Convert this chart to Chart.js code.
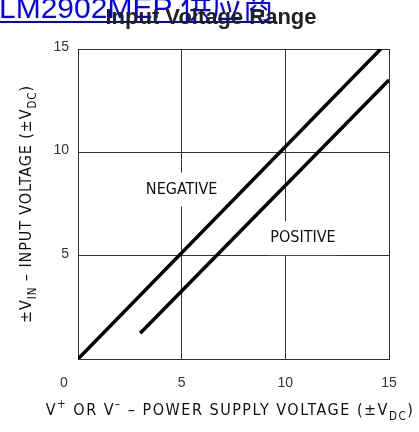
<!DOCTYPE html>
<html>
<head>
<meta charset="utf-8">
<script src="https://cdn.jsdelivr.net/npm/chart.js@4.4.0/dist/chart.umd.min.js"></script>
<style>
  body { margin: 0; background: #fff; }
  canvas { display: block; }
</style>
</head>
<body>
<canvas id="chart" width="419" height="432"></canvas>
<script>
// values
var negativeSupply = [0, 14.6]
var negativeInput = [0, 15]
var positiveSupply = [3, 15]
var positiveInput = [1.25, 13.5]

var xTicks = [0, 5, 10, 15]
var yTicks = [5, 10, 15]

var regionLabels = ['NEGATIVE', 'POSITIVE']
var regionX = [5, 10.85]
var regionY = [8.2, 5.85]

function toPoints(xs, ys) {
  return xs.map(function (x, i) { return {x: x, y: ys[i]} })
}

var LABEL_FONT = '"DejaVu Sans Condensed", "DejaVu Sans", sans-serif'
var TICK_FONT = '"Liberation Sans", Arial, sans-serif'

// draws text made of pieces, some of them raised or lowered
function richText(ctx, parts, size, x, y, spacing) {
  ctx.letterSpacing = spacing + 'px'
  var total = 0
  parts.forEach(function (p) {
    ctx.font = (p.sub || p.sup ? size * 0.72 : size) + 'px ' + LABEL_FONT
    p.w = ctx.measureText(p.t).width
    total += p.w
  })
  var cx = x - total / 2
  parts.forEach(function (p) {
    ctx.font = (p.sub || p.sup ? size * 0.72 : size) + 'px ' + LABEL_FONT
    var dy = p.sub ? size * 0.3 : (p.sup ? -size * 0.42 : 0)
    ctx.textAlign = 'left'
    ctx.fillText(p.t, cx, y + dy)
    cx += p.w
  })
  ctx.letterSpacing = '0px'
}

var decorations = {
  id: 'decorations',
  afterDraw: function (chart) {
    var ctx = chart.ctx
    var xs = chart.scales.x
    var ys = chart.scales.y
    var area = chart.chartArea
    ctx.save()

    // link text at the top left
    ctx.fillStyle = '#0000ff'
    ctx.textBaseline = 'alphabetic'
    ctx.textAlign = 'left'
    ctx.font = '30px "Liberation Sans", Arial, sans-serif'
    ctx.fillText('LM2902MEP', -1, 18)
    var w1 = ctx.measureText('LM2902MEP ').width
    ctx.font = '31px "Noto Sans CJK SC", sans-serif'
    ctx.fillText('供应商', w1 - 1, 18)
    var w2 = ctx.measureText('供应商').width
    ctx.fillRect(0, 21, w1 + w2 + 2, 2)

    // title
    ctx.fillStyle = '#222'
    ctx.textAlign = 'center'
    ctx.font = 'bold 22px "Liberation Sans", Arial, sans-serif'
    ctx.fillText('Input Voltage Range', 211, 24)

    // tick labels
    ctx.fillStyle = '#333'
    ctx.font = '14px ' + TICK_FONT
    ctx.textBaseline = 'middle'
    ctx.textAlign = 'right'
    yTicks.forEach(function (v) {
      ctx.fillText(String(v), area.left - 9, ys.getPixelForValue(v) - 2)
    })
    ctx.textAlign = 'center'
    xTicks.forEach(function (v) {
      var px = xs.getPixelForValue(v)
      if (v === 0) px = area.left - 14
      ctx.fillText(String(v), px, area.bottom + 24)
    })

    // region labels sitting on white boxes that break the grid
    ctx.font = '16px ' + LABEL_FONT
    regionLabels.forEach(function (t, i) {
      var px = xs.getPixelForValue(regionX[i])
      var py = ys.getPixelForValue(regionY[i])
      var w = ctx.measureText(t).width
      ctx.fillStyle = '#fff'
      ctx.fillRect(px - w / 2 - 2, py - 17, w + 4, 34)
      ctx.fillStyle = '#111'
      ctx.textAlign = 'center'
      ctx.textBaseline = 'middle'
      ctx.fillText(t, px, py)
    })

    // axis titles
    ctx.fillStyle = '#111'
    ctx.textBaseline = 'alphabetic'
    richText(ctx, [
      {t: 'V'}, {t: '+', sup: true}, {t: ' OR V'}, {t: '\u2013', sup: true},
      {t: ' \u2013 POWER SUPPLY VOLTAGE (\u00b1V'}, {t: 'DC', sub: true}, {t: ')'}
    ], 16, 230, area.bottom + 56, 1.5)

    ctx.translate(area.left - 47, 204)
    ctx.rotate(-Math.PI / 2)
    richText(ctx, [
      {t: '\u00b1V'}, {t: 'IN', sub: true}, {t: ' \u2013 INPUT VOLTAGE (\u00b1V'},
      {t: 'DC', sub: true}, {t: ')'}
    ], 16, 0, 0, 0.9)

    ctx.restore()
  }
}

new Chart(document.getElementById('chart'), {
  type: 'scatter',
  data: {
    datasets: [
      {
        label: 'Negative',
        data: toPoints(negativeSupply, negativeInput),
        showLine: true,
        borderColor: '#000',
        borderWidth: 3.5,
        pointRadius: 0
      },
      {
        label: 'Positive',
        data: toPoints(positiveSupply, positiveInput),
        showLine: true,
        borderColor: '#000',
        borderWidth: 3.5,
        pointRadius: 0
      }
    ]
  },
  options: {
    responsive: false,
    animation: false,
    devicePixelRatio: 1,
    layout: {padding: {left: 78, right: 30, top: 49, bottom: 73}},
    plugins: {legend: {display: false}, tooltip: {enabled: false}, title: {display: false}},
    scales: {
      x: {
        type: 'linear', min: 0, max: 15,
        ticks: {display: false, stepSize: 5},
        grid: {color: '#333', lineWidth: 1, drawTicks: false},
        border: {display: true, color: '#333', width: 1}
      },
      y: {
        type: 'linear', min: 0, max: 15,
        ticks: {display: false, stepSize: 5},
        grid: {color: '#333', lineWidth: 1, drawTicks: false},
        border: {display: true, color: '#333', width: 1}
      }
    }
  },
  plugins: [decorations]
})
</script>
</body>
</html>
